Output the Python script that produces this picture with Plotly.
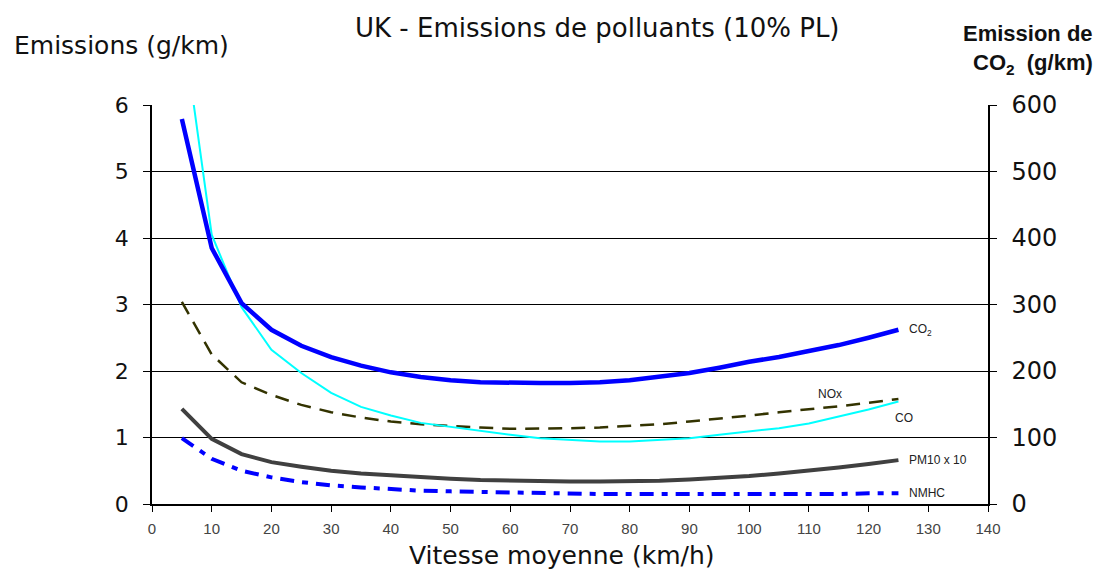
import plotly.graph_objects as go

speed = [5, 10, 15, 20, 25, 30, 35, 40, 45, 50, 55, 60, 65, 70, 75, 80, 85, 90, 95, 100, 105, 110, 115, 120, 125]

co2 = [579, 385, 302, 262, 238, 221, 208, 198, 191, 186, 183, 182, 182, 182, 183, 186, 191, 197, 205, 214, 221, 230, 239, 250, 262]
co = [7.3, 4.05, 2.96, 2.32, 1.97, 1.67, 1.46, 1.33, 1.22, 1.16, 1.09, 1.04, 0.99, 0.96, 0.94, 0.94, 0.96, 0.99, 1.04, 1.09, 1.14, 1.21, 1.31, 1.42, 1.54]
nox = [3.04, 2.25, 1.83, 1.64, 1.49, 1.38, 1.30, 1.24, 1.20, 1.17, 1.15, 1.13, 1.13, 1.14, 1.15, 1.17, 1.20, 1.24, 1.28, 1.33, 1.38, 1.42, 1.47, 1.52, 1.58]
pm10x10 = [1.43, 0.98, 0.75, 0.63, 0.56, 0.50, 0.46, 0.43, 0.40, 0.38, 0.36, 0.35, 0.34, 0.34, 0.34, 0.34, 0.35, 0.37, 0.39, 0.42, 0.46, 0.50, 0.55, 0.60, 0.66]
nmhc = [0.99, 0.68, 0.50, 0.40, 0.33, 0.28, 0.25, 0.22, 0.20, 0.19, 0.18, 0.17, 0.16, 0.16, 0.15, 0.15, 0.15, 0.14, 0.14, 0.14, 0.15, 0.15, 0.15, 0.16, 0.16]

series_labels = ["CO<sub>2</sub>", "NOx", "CO", "PM10 x 10", "NMHC"]

FONT = "Liberation Sans, Arial, sans-serif"
WIDE = "DejaVu Sans, Liberation Sans, sans-serif"

fig = go.Figure()
fig.add_trace(go.Scatter(x=speed, y=pm10x10, mode="lines", line=dict(color="#404040", width=4), showlegend=False))
fig.add_trace(go.Scatter(x=speed, y=nmhc, mode="lines", line=dict(color="#0000ff", width=4, dash="14px,8px,6px,8px"), showlegend=False))
fig.add_trace(go.Scatter(x=speed, y=nox, mode="lines", line=dict(color="#333300", width=2.5, dash="14px,9px"), showlegend=False))
fig.add_trace(go.Scatter(x=speed, y=co, mode="lines", line=dict(color="#00ffff", width=2), showlegend=False))
fig.add_trace(go.Scatter(x=speed, y=co2, mode="lines", line=dict(color="#0000ff", width=4.5), yaxis="y2", showlegend=False))

small = dict(size=12, color="#222", family=FONT)
ann = []
# series labels
ann.append(dict(x=126.5, y=co2[-1], xref="x", yref="y2", text=series_labels[0], showarrow=False, xanchor="left", yanchor="middle", font=small))
ann.append(dict(x=113.5, y=1.66, xref="x", yref="y", text=series_labels[1], showarrow=False, xanchor="center", yanchor="middle", font=small))
ann.append(dict(x=126, y=1.30, xref="x", yref="y", text=series_labels[2], showarrow=False, xanchor="center", yanchor="middle", font=small))
ann.append(dict(x=126.5, y=0.66, xref="x", yref="y", text=series_labels[3], showarrow=False, xanchor="left", yanchor="middle", font=small))
ann.append(dict(x=126.5, y=0.16, xref="x", yref="y", text=series_labels[4], showarrow=False, xanchor="left", yanchor="middle", font=small))
# titles
ann.append(dict(x=0.533, y=1.193, xref="paper", yref="paper", text="UK - Emissions de polluants (10% PL)", showarrow=False,
                xanchor="center", yanchor="middle", font=dict(size=26, color="#111", family=WIDE)))
ann.append(dict(x=-0.168, y=1.150, xref="paper", yref="paper", text="Emissions (g/km)", showarrow=False,
                xanchor="left", yanchor="middle", font=dict(size=25, color="#111", family=WIDE)))
ann.append(dict(x=1.128, y=1.180, xref="paper", yref="paper", text="<b>Emission de</b>", showarrow=False,
                xanchor="right", yanchor="middle", font=dict(size=22, color="#111", family=FONT)))
ann.append(dict(x=1.128, y=1.103, xref="paper", yref="paper", text="<b>CO<sub>2</sub>  (g/km)</b>", showarrow=False,
                xanchor="right", yanchor="middle", font=dict(size=22, color="#111", family=FONT)))
ann.append(dict(x=0.490, y=-0.130, xref="paper", yref="paper", text="Vitesse moyenne (km/h)", showarrow=False,
                xanchor="center", yanchor="middle", font=dict(size=25, color="#111", family=WIDE)))

# page body has an 8px margin, so the figure is shrunk by 8px to fit the window
fig.update_layout(
    width=1093, height=566,
    margin=dict(l=144, r=113, t=97, b=70),
    paper_bgcolor="white", plot_bgcolor="white",
    font=dict(family=FONT, color="#111"),
    annotations=ann,
    xaxis=dict(range=[0, 140], tickvals=list(range(0, 141, 10)), showgrid=False, zeroline=False,
               showline=True, linecolor="black", linewidth=1.5, ticks="outside", ticklen=6, tickcolor="black",
               tickfont=dict(size=15, color="#444", family=FONT), fixedrange=True, automargin=False,
               ticklabelstandoff=4),
    yaxis=dict(range=[0, 6], tickvals=[0, 1, 2, 3, 4, 5, 6], showgrid=True, gridcolor="black", gridwidth=1,
               zeroline=False, showline=True, linecolor="black", linewidth=1.5, ticks="outside", ticklen=7,
               tickcolor="black", tickfont=dict(size=22, color="#111", family=WIDE), ticklabelstandoff=10,
               automargin=False),
    yaxis2=dict(range=[0, 600], tickvals=[0, 100, 200, 300, 400, 500, 600], overlaying="y", side="right",
                showgrid=False, zeroline=False, showline=True, linecolor="black", linewidth=1.5, ticks="outside",
                ticklen=7, tickcolor="black", tickfont=dict(size=24, color="#111", family=WIDE), ticklabelstandoff=10,
                automargin=False),
)

fig.write_html("out.html")
